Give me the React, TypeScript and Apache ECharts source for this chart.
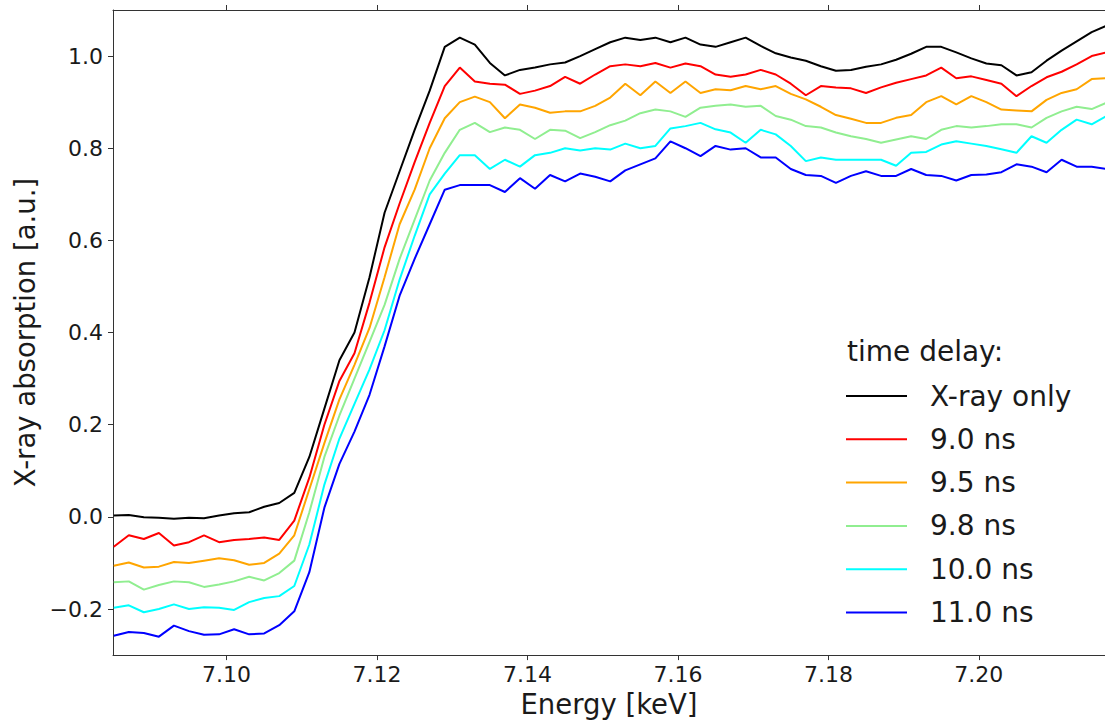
import React, { useEffect, useRef } from "react";
import * as echarts from "echarts";

// Energy grid [keV]
const energy = [
  7.085, 7.087, 7.089, 7.091, 7.093, 7.095, 7.097, 7.099, 7.101, 7.103, 7.105,
  7.107, 7.109, 7.111, 7.113, 7.115, 7.117, 7.119, 7.121, 7.123, 7.125, 7.127,
  7.129, 7.131, 7.133, 7.135, 7.137, 7.139, 7.141, 7.143, 7.145, 7.147, 7.149,
  7.151, 7.153, 7.155, 7.157, 7.159, 7.161, 7.163, 7.165, 7.167, 7.169, 7.171,
  7.173, 7.175, 7.177, 7.179, 7.181, 7.183, 7.185, 7.187, 7.189, 7.191, 7.193,
  7.195, 7.197, 7.199, 7.201, 7.203, 7.205, 7.207, 7.209, 7.211, 7.213, 7.215,
  7.217,
];

const xrayOnly = [
  0.003, 0.004, -0.001, -0.002, -0.004, -0.002, -0.003, 0.003, 0.008, 0.010, 0.022,
  0.030, 0.052, 0.130, 0.235, 0.340, 0.400, 0.520, 0.660, 0.750, 0.840, 0.925,
  1.020, 1.040, 1.025, 0.985, 0.958, 0.970, 0.975, 0.982, 0.986, 1.000, 1.015,
  1.030, 1.040, 1.035, 1.040, 1.030, 1.040, 1.025, 1.020, 1.030, 1.040, 1.022,
  1.006, 0.997, 0.990, 0.978, 0.968, 0.970, 0.977, 0.982, 0.992, 1.005, 1.020,
  1.020, 1.008, 0.995, 0.984, 0.980, 0.958, 0.965, 0.990, 1.012, 1.032, 1.052,
  1.066,
];

const ns90 = [
  -0.065, -0.040, -0.048, -0.035, -0.062, -0.055, -0.040, -0.055, -0.050, -0.048, -0.045,
  -0.050, -0.008, 0.085, 0.200, 0.295, 0.355, 0.465, 0.585, 0.680, 0.770, 0.855,
  0.935, 0.975, 0.945, 0.940, 0.938, 0.918, 0.925, 0.935, 0.955, 0.940, 0.960,
  0.978, 0.982, 0.978, 0.985, 0.975, 0.984, 0.978, 0.960, 0.955, 0.960, 0.970,
  0.960, 0.940, 0.915, 0.935, 0.932, 0.930, 0.920, 0.932, 0.942, 0.950, 0.958,
  0.975, 0.952, 0.956, 0.948, 0.940, 0.913, 0.935, 0.954, 0.966, 0.982, 1.000,
  1.008,
];

const ns95 = [
  -0.106, -0.099, -0.110, -0.108, -0.098, -0.100, -0.095, -0.090, -0.094, -0.104, -0.100,
  -0.080, -0.040, 0.060, 0.160, 0.255, 0.330, 0.410, 0.520, 0.635, 0.710, 0.800,
  0.865, 0.900, 0.912, 0.900, 0.865, 0.895, 0.888, 0.877, 0.880, 0.880, 0.892,
  0.910, 0.940, 0.915, 0.945, 0.920, 0.945, 0.920, 0.928, 0.926, 0.935, 0.928,
  0.935, 0.918, 0.906, 0.890, 0.872, 0.864, 0.855, 0.855, 0.866, 0.872, 0.900,
  0.913, 0.895, 0.913, 0.900, 0.884, 0.882, 0.880, 0.905, 0.920, 0.928, 0.950,
  0.952,
];

const ns98 = [
  -0.142, -0.140, -0.158, -0.148, -0.140, -0.142, -0.152, -0.147, -0.140, -0.130, -0.138,
  -0.122, -0.095, 0.010, 0.130, 0.220, 0.300, 0.380, 0.460, 0.560, 0.645, 0.730,
  0.790, 0.840, 0.855, 0.835, 0.845, 0.840, 0.820, 0.840, 0.838, 0.822, 0.835,
  0.850, 0.860, 0.876, 0.884, 0.880, 0.868, 0.888, 0.892, 0.895, 0.890, 0.892,
  0.870, 0.862, 0.848, 0.845, 0.834, 0.826, 0.820, 0.812, 0.819, 0.826, 0.820,
  0.840, 0.848, 0.845, 0.848, 0.852, 0.852, 0.845, 0.866, 0.880, 0.890, 0.885,
  0.899,
];

const ns100 = [
  -0.197, -0.192, -0.207, -0.200, -0.190, -0.200, -0.196, -0.197, -0.202, -0.185, -0.176,
  -0.172, -0.150, -0.060, 0.070, 0.170, 0.245, 0.320, 0.405, 0.515, 0.610, 0.700,
  0.745, 0.785, 0.785, 0.755, 0.775, 0.760, 0.785, 0.790, 0.800, 0.795, 0.800,
  0.797, 0.810, 0.800, 0.805, 0.843, 0.848, 0.855, 0.841, 0.834, 0.812, 0.840,
  0.830, 0.805, 0.772, 0.780, 0.775, 0.775, 0.775, 0.775, 0.762, 0.790, 0.792,
  0.808, 0.815, 0.810, 0.805, 0.798, 0.790, 0.826, 0.812, 0.840, 0.862, 0.852,
  0.870,
];

const ns110 = [
  -0.258, -0.250, -0.252, -0.260, -0.236, -0.248, -0.256, -0.255, -0.244, -0.255, -0.253,
  -0.235, -0.205, -0.120, 0.020, 0.115, 0.185, 0.265, 0.370, 0.480, 0.560, 0.635,
  0.710, 0.720, 0.720, 0.720, 0.705, 0.735, 0.712, 0.742, 0.728, 0.745, 0.738,
  0.728, 0.752, 0.765, 0.778, 0.815, 0.800, 0.783, 0.805, 0.797, 0.800, 0.780,
  0.780, 0.755, 0.742, 0.740, 0.725, 0.740, 0.750, 0.740, 0.740, 0.755, 0.742,
  0.740, 0.730, 0.742, 0.743, 0.748, 0.765, 0.760, 0.748, 0.775, 0.760, 0.760,
  0.755,
];

const seriesNames = ["X-ray only", "9.0 ns", "9.5 ns", "9.8 ns", "10.0 ns", "11.0 ns"];
const seriesValues = [xrayOnly, ns90, ns95, ns98, ns100, ns110];
const seriesColors = ["#000000", "#ff0000", "#ffa500", "#90ee90", "#00ffff", "#0000ff"];

const xTicks = [7.1, 7.12, 7.14, 7.16, 7.18, 7.2];
const yTicks = [-0.2, 0.0, 0.2, 0.4, 0.6, 0.8, 1.0];

const X_MIN = 7.0849;
const X_MAX = 7.21677;
const Y_MIN = -0.3;
const Y_MAX = 1.1;

const FONT = "DejaVu Sans";
const AXIS_COLOR = "#333333";
const TEXT_COLOR = "#1a1a1a";

export default function App() {
  const ref = useRef<HTMLDivElement>(null);

  useEffect(() => {
    if (!ref.current) return;
    const chart = echarts.init(ref.current, undefined, { renderer: "svg" });

    const commonX = {
      type: "value" as const,
      min: X_MIN,
      max: X_MAX,
      splitLine: { show: false },
      axisLine: { show: true, onZero: false, lineStyle: { color: AXIS_COLOR, width: 1 } },
      axisTick: {
        show: true,
        inside: false,
        length: 5,
        customValues: xTicks,
        lineStyle: { color: AXIS_COLOR, width: 1 },
      },
    };

    const option: any = {
      animation: false,
      textStyle: { fontFamily: FONT },
      grid: { left: 113, top: 10, width: 993, height: 646, containLabel: false },
      xAxis: [
        {
          ...commonX,
          position: "bottom",
          axisLabel: {
            customValues: xTicks,
            formatter: (v: number) => v.toFixed(2),
            fontSize: 22,
            color: TEXT_COLOR,
            fontFamily: FONT,
            margin: 8,
          },
          name: "Energy [keV]",
          nameLocation: "middle",
          nameGap: 32,
          nameTextStyle: { fontSize: 27.5, color: TEXT_COLOR, fontFamily: FONT },
        },
        {
          ...commonX,
          position: "top",
          axisLabel: { show: false },
        },
      ],
      yAxis: {
        type: "value",
        min: Y_MIN,
        max: Y_MAX,
        splitLine: { show: false },
        axisLine: { show: true, onZero: false, lineStyle: { color: AXIS_COLOR, width: 1 } },
        axisTick: {
          show: true,
          inside: false,
          length: 5,
          customValues: yTicks,
          lineStyle: { color: AXIS_COLOR, width: 1 },
        },
        axisLabel: {
          customValues: yTicks,
          formatter: (v: number) => (v < -1e-9 ? "\u2212" : "") + Math.abs(v).toFixed(1),
          fontSize: 22,
          color: TEXT_COLOR,
          fontFamily: FONT,
          margin: 10,
        },
        name: "X-ray absorption [a.u.]",
        nameLocation: "middle",
        nameGap: 72,
        nameRotate: 90,
        nameTextStyle: { fontSize: 27.5, color: TEXT_COLOR, fontFamily: FONT },
      },
      legend: {
        show: true,
        orient: "vertical",
        left: 846,
        top: 379,
        padding: 0,
        itemWidth: 61,
        itemHeight: 2,
        itemGap: 9.3,
        icon: "rect",
        selectedMode: false,
        data: seriesNames,
        textStyle: {
          fontSize: 28,
          lineHeight: 34,
          color: TEXT_COLOR,
          fontFamily: FONT,
          padding: [0, 0, 0, 18],
        },
      },
      graphic: [
        {
          type: "text",
          left: 847,
          top: 337,
          style: {
            text: "time delay:",
            fontSize: 28,
            fontFamily: FONT,
            fill: TEXT_COLOR,
          },
        },
      ],
      series: seriesNames.map((name, i) => ({
        name,
        type: "line",
        xAxisIndex: 0,
        yAxisIndex: 0,
        data: energy.map((e, j) => [e, seriesValues[i][j]]),
        showSymbol: false,
        symbol: "none",
        clip: true,
        lineStyle: { width: 2, color: seriesColors[i] },
        itemStyle: { color: seriesColors[i] },
        z: 2 + i,
      })),
    };

    chart.setOption(option);
    return () => {
      chart.dispose();
    };
  }, []);

  return (
    <div
      ref={ref}
      style={{ position: "absolute", left: 0, top: 0, width: 1105, height: 723, background: "#ffffff" }}
    />
  );
}
